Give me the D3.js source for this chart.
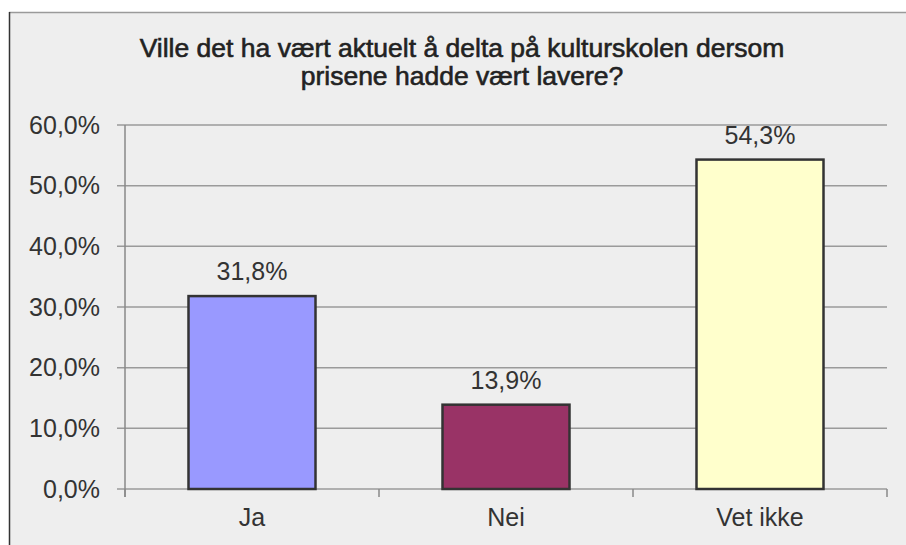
<!DOCTYPE html>
<html>
<head>
<meta charset="utf-8">
<style>
	body { margin: 0; background: #fff; }
	text { font-family: "Liberation Sans", Arial, sans-serif; fill: #333; }
	.grid line { stroke: #9a9a9a; stroke-width: 1.5; }
	.bar { stroke: #333; stroke-width: 2.5; }
</style>
</head>
<body>
<svg width="906" height="545"></svg>
<script src="https://d3js.org/d3.v7.min.js"></script>
<script>

var categories = ['Ja', 'Nei', 'Vet ikke'];
var values = [31.8, 13.9, 54.3];
var colors = ['#9999ff', '#993366', '#ffffcc'];
var tickValues = [0, 10, 20, 30, 40, 50, 60];
var titleLines = ['Ville det ha vært aktuelt å delta på kulturskolen dersom', 'prisene hadde vært lavere?'];

var width = 906;
var height = 545;

var margin = {
	top: 125,
	right: 19,
	bottom: 56,
	left: 125
};

var innerWidth = width - margin.left - margin.right;
var innerHeight = height - margin.top - margin.bottom;

var fmt = function(v, dec) {
	return v.toFixed(dec).replace('.', ',') + '%';
};

var svg = d3.select('svg');

// chart frame
svg.append('rect')
	.attr('x', 9).attr('y', 12)
	.attr('width', width - 9).attr('height', height - 12)
	.attr('fill', '#eeeeee');
svg.append('line')
	.attr('x1', 9).attr('x2', width).attr('y1', 12.5).attr('y2', 12.5)
	.attr('stroke', '#9a9a9a').attr('stroke-width', 1.5);
svg.append('line')
	.attr('x1', 9.5).attr('x2', 9.5).attr('y1', 12).attr('y2', height)
	.attr('stroke', '#333').attr('stroke-width', 1.5);

// title
svg.append('g').selectAll('text')
	.data(titleLines)
	.join('text')
	.attr('x', 462)
	.attr('y', function(d, i) { return 57 + i * 28; })
	.attr('text-anchor', 'middle')
	.attr('font-size', 26.5)
	.attr('letter-spacing', 0)
	.style('fill', '#222')
	.style('stroke', '#222')
	.style('stroke-width', 0.6)
	.text(function(d) { return d; });

var g = svg.append('g')
	.attr('transform', 'translate(' + margin.left + ',' + margin.top + ')');

var x = d3.scaleBand().domain(categories).range([0, innerWidth]).paddingInner(0.5).paddingOuter(0.25);
var xb = d3.scaleBand().domain(categories).range([0, innerWidth]);
var y = d3.scaleLinear().domain([0, 60]).range([innerHeight, 0]);

// gridlines
g.append('g')
	.attr('class', 'grid')
	.selectAll('line')
	.data(tickValues)
	.join('line')
	.attr('x1', -8)
	.attr('x2', innerWidth)
	.attr('y1', function(d) { return y(d); })
	.attr('y2', function(d) { return y(d); });

// y axis
var yAxis = g.append('g')
	.call(d3.axisLeft(y).tickValues(tickValues).tickSize(8).tickPadding(17)
		.tickFormat(function(d) { return fmt(d, 1); }));
yAxis.attr('font-size', 25);
yAxis.select('.domain').attr('stroke', '#888').attr('stroke-width', 1.5).attr('d', 'M0,0V' + (innerHeight + 8));
yAxis.selectAll('.tick line').remove();
yAxis.selectAll('text').attr('font-size', 25).attr('font-family', null).style('fill', '#333');

// x axis
var xAxis = g.append('g')
	.attr('transform', 'translate(0,' + innerHeight + ')')
	.call(d3.axisBottom(xb).tickSize(0).tickPadding(19));
xAxis.attr('font-size', 25);
xAxis.select('.domain').remove();
xAxis.selectAll('text').attr('font-size', 25).attr('font-family', null).style('fill', '#333');
g.append('g')
	.selectAll('line')
	.data(categories.concat(['end']))
	.join('line')
	.attr('x1', function(d, i) { return i * xb.bandwidth(); })
	.attr('x2', function(d, i) { return i * xb.bandwidth(); })
	.attr('y1', innerHeight)
	.attr('y2', innerHeight + 8)
	.attr('stroke', '#888')
	.attr('stroke-width', 1.5);

// bars
g.selectAll('.bar')
	.data(values)
	.join('rect')
	.classed('bar', true)
	.attr('x', function(d, i) { return x(categories[i]); })
	.attr('y', function(d) { return y(d); })
	.attr('width', x.bandwidth())
	.attr('height', function(d) { return innerHeight - y(d); })
	.attr('fill', function(d, i) { return colors[i]; });

// value labels
g.selectAll('.val')
	.data(values)
	.join('text')
	.attr('class', 'val')
	.attr('x', function(d, i) { return x(categories[i]) + x.bandwidth() / 2; })
	.attr('y', function(d) { return y(d) - 16; })
	.attr('text-anchor', 'middle')
	.attr('font-size', 25)
	.text(function(d) { return fmt(d, 1); });

</script>
</body>
</html>
